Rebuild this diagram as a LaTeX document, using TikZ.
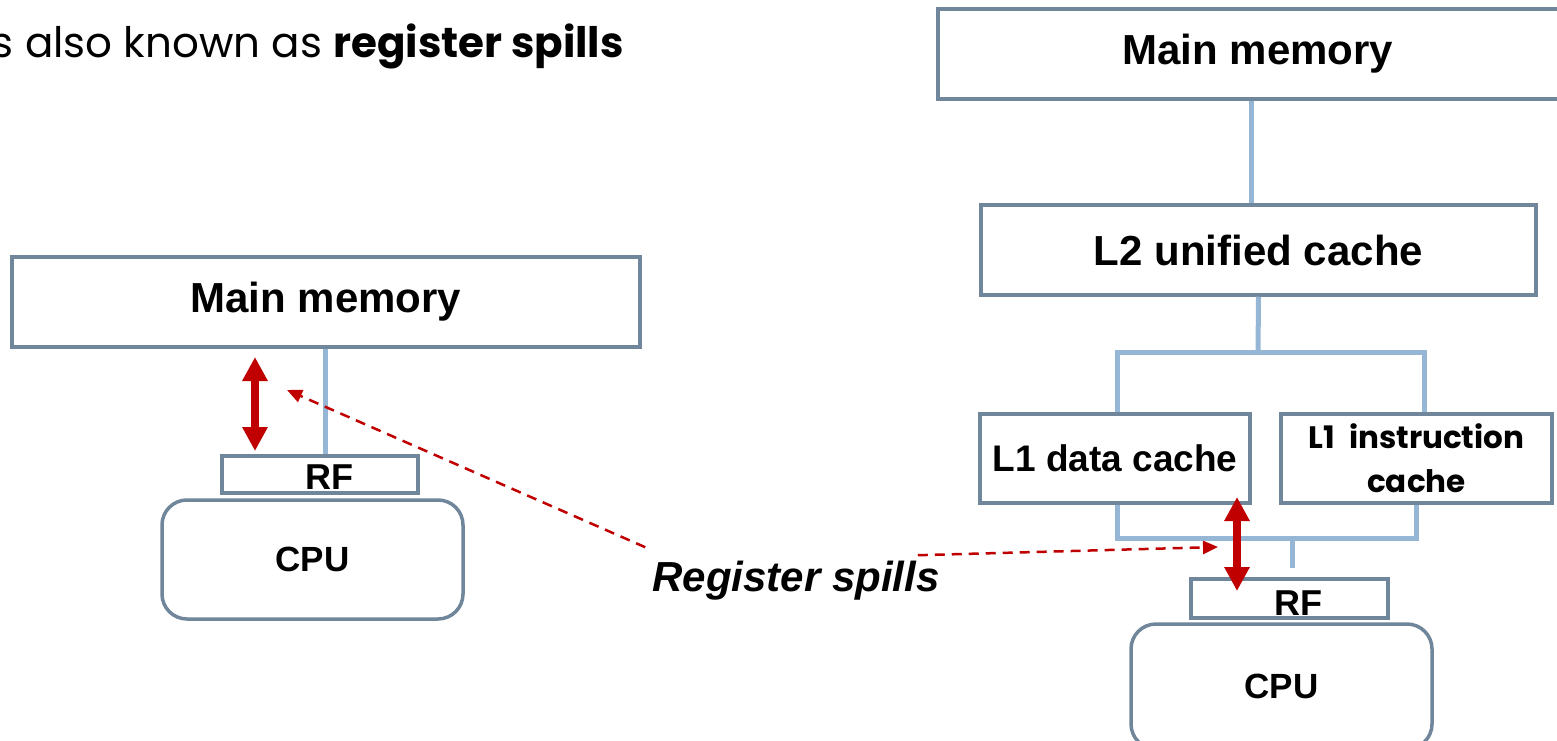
\documentclass[tikz,border=0pt]{standalone}
\usepackage{fontspec}
\setmainfont{Liberation Sans}
\newfontfamily\fut{Poppins}
\usetikzlibrary{arrows.meta}
\definecolor{boxc}{RGB}{112,134,155}
\definecolor{connc}{RGB}{149,183,213}
\definecolor{redc}{RGB}{192,0,0}
\newcommand{\myfs}[2]{\fontsize{#1}{#2}\selectfont}
\begin{document}
\begin{tikzpicture}[x=1pt,y=-1pt,
  box/.style={draw=boxc,line width=3.5pt,fill=white,inner sep=0pt,rectangle},
  cpubox/.style={box,rounded corners=25pt},
  conn/.style={draw=connc,line width=5pt},
  dbl/.style={draw=redc,line width=8pt,{Triangle[width=24pt,length=24pt]}-{Triangle[width=24pt,length=24pt]}},
  dsh/.style={draw=redc,line width=2.5pt,dash pattern=on 10pt off 7pt,-{Triangle[width=13pt,length=15pt]}},
  lbl/.style={font=\bfseries\myfs{42}{42}}]
\useasboundingbox (0,0) rectangle (1557,741);

\node[anchor=base east, font=\fut\myfs{42}{42}, inner sep=0pt] (title) at (624,58) {s also known as \textbf{register spills}};

% left
\node[box, minimum width=628pt, minimum height=90pt, lbl] (mmL) at (326,302) {Main memory};
\node[box, minimum width=196pt, minimum height=37pt, font=\bfseries\myfs{36}{36}] (rfL) at (320,474.5) {\raisebox{-15pt}[0pt][0pt]{\makebox[0pt]{\hspace{18pt}RF}}};
\node[cpubox, minimum width=301pt, minimum height=119pt, font=\bfseries\myfs{35}{35}] (cpuL) at (312.5,559.5) {CPU};

% right
\node[box, minimum width=640pt, minimum height=90pt, lbl] (mmR) at (1258,54) {Main memory};
\node[box, minimum width=555pt, minimum height=90pt, lbl] (l2) at (1258.5,250) {L2 unified cache};
\node[box, minimum width=270pt, minimum height=89pt, font=\bfseries\myfs{37}{37}] (l1d) at (1115,458.5) {L1 data cache};
\node[box, minimum width=271pt, minimum height=89pt, font=\fut\bfseries\myfs{31}{44}, align=center] (l1i) at (1416.5,458.5) {L1\hspace{0.45em}instruction\\cache};
\node[box, minimum width=197pt, minimum height=39pt, font=\bfseries\myfs{36}{36}] (rfR) at (1289.5,598.5) {\raisebox{-16.5pt}[0pt][0pt]{\makebox[0pt]{\hspace{17pt}RF}}};
\node[cpubox, minimum width=301pt, minimum height=125pt, font=\bfseries\myfs{35}{35}] (cpuR) at (1281.5,686.5) {CPU};

\node[font=\bfseries\itshape\myfs{42}{42}, inner sep=0pt] (rs) at (796,581) {Register spills};

% connectors
\draw[conn] ([xshift=5pt]rfL.north) -- ([xshift=5pt]rfL.north |- mmL.south);
\draw[conn] ([xshift=-7pt]mmR.south) -- ([xshift=-7pt]mmR.south |- l2.north);
\coordinate (j1) at (1258,352);
\coordinate (j2) at (1292,538);
\coordinate (j3) at (1292,568);
\draw[conn] (l2.south) -- (j1);
\draw[conn] ([xshift=2pt]l1d.north) |- (j1) -| ([xshift=7.5pt]l1i.north);
\draw[conn] ([xshift=2pt]l1d.south) |- (j2) -| (l1i.south);
\draw[conn] (j2) -- (j3);

% red arrows
\coordinate (aL1) at (255,357);
\coordinate (aL2) at (255,451);
\coordinate (aR1) at (1237,497);
\coordinate (aR2) at (1237,591);
\draw[dbl] (aL1) -- (aL2);
\draw[dbl] (aR1) -- (aR2);
\coordinate (t1) at (287,390);
\coordinate (t2) at (1218,547);
\draw[dsh] ([shift={(-7,-14)}]rs.north west) -- (t1);
\draw[dsh] ([shift={(-22,-6)}]rs.north east) -- (t2);
\end{tikzpicture}
\end{document}
